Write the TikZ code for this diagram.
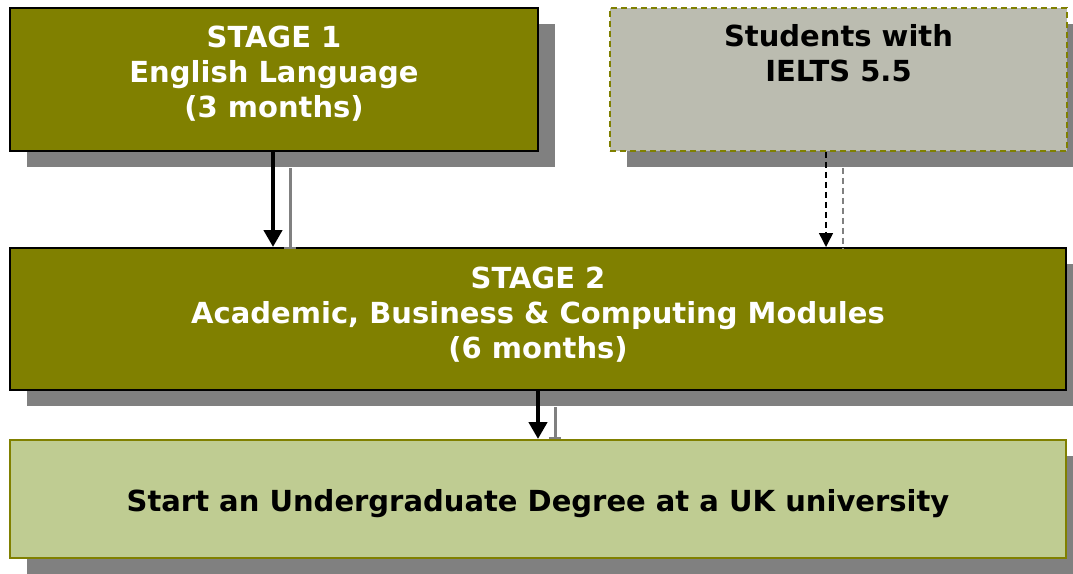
\documentclass[tikz,border=0pt]{standalone}
\usepackage{fontspec}
\setmainfont{DejaVu Sans}
\usepackage{tikz}
\usetikzlibrary{arrows.meta,shadows,positioning}
\definecolor{olivebox}{HTML}{808000}
\definecolor{greybox}{HTML}{BBBCB0}
\definecolor{greenbox}{HTML}{BFCC92}
\definecolor{shade}{HTML}{808080}
% move a centred block of lines up or down inside its box
\newcommand\liftlines[2]{\raisebox{#1}[\height][\depth]{\begin{tabular}{@{}c@{}}#2\end{tabular}}}
\tikzset{
	box/.style = {rectangle, align=center, inner sep=0pt,
		font=\fontsize{29}{35}\selectfont\bfseries,
		drop shadow={shadow xshift=17pt, shadow yshift=-16pt, fill=shade, opacity=1}},
	stagebox/.style = {box, draw=black, line width=2pt, fill=olivebox, text=white},
	entrybox/.style = {box, draw=olivebox, line width=1.5pt, dash pattern=on 6pt off 4pt, fill=greybox, text=black},
	goalbox/.style = {box, draw=olivebox, line width=2pt, fill=greenbox, text=black},
	flow/.style = {line width=4.5pt, -{Triangle[width=18pt,length=17pt]}},
	flowshade/.style = {line width=3pt, draw=shade, -{Bar[width=12pt,line width=2pt]}},
	dashflow/.style = {line width=1.5pt, dash pattern=on 6pt off 4pt, -{Triangle[width=14pt,length=14pt]}},
	dashshade/.style = {line width=1.5pt, draw=shade, dash pattern=on 6pt off 4pt}
}
\begin{document}
\begin{tikzpicture}[x=1pt,y=-1pt]
	\useasboundingbox (0,0) rectangle (1073,573);
	\node [stagebox, minimum width=528pt, minimum height=143pt] (stage1) at (274,79.5)
		{\liftlines{4pt}{STAGE 1\\English Language\\(3 months)}};
	\node [entrybox, minimum width=457pt, minimum height=143pt] (ielts) at (838.5,79.5)
		{Students with\\IELTS 5.5\\[18pt]\mbox{}};
	\node [stagebox, minimum width=1056pt, minimum height=142pt] (stage2) at (538,319)
		{\liftlines{3pt}{STAGE 2\\Academic, Business \& Computing Modules\\(6 months)}};
	\node [goalbox, minimum width=1056pt, minimum height=118pt] (degree) at (538,499)
		{\liftlines{-5pt}{Start an Undergraduate Degree at a UK university}};
	% connectors and their shadows
	\coordinate (s1out) at ([xshift=-1pt]stage1.south);
	\coordinate (ieltsout) at ([xshift=-12.5pt]ielts.south);
	\draw [flowshade] ([xshift=17pt,yshift=-16pt]s1out) -- ([xshift=17pt,yshift=-2pt]s1out |- stage2.north);
	\draw [flow] (s1out) -- (s1out |- stage2.north);
	\draw [dashshade] ([xshift=17pt,yshift=-16pt]ieltsout) -- ([xshift=17pt,yshift=-2pt]ieltsout |- stage2.north);
	\draw [dashflow] (ieltsout) -- (ieltsout |- stage2.north);
	\draw [flowshade] ([xshift=17pt,yshift=-16pt]stage2.south) -- ([xshift=17pt]degree.north);
	\draw [flow] (stage2.south) -- (degree.north);
\end{tikzpicture}
\end{document}
